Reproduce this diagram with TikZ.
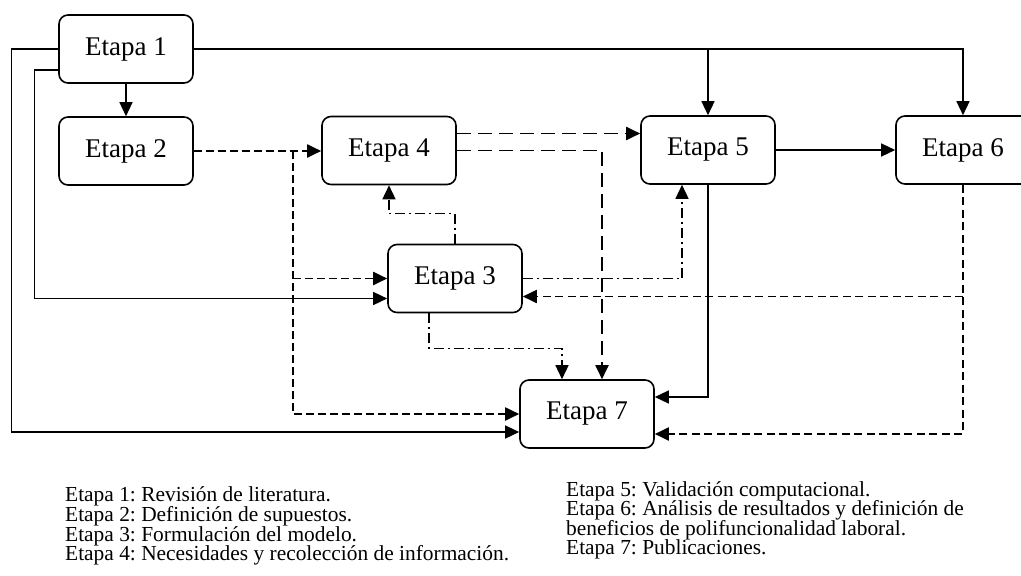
\documentclass[tikz,border=0pt]{standalone}
\usepackage{fontspec}
\setmainfont{Liberation Serif}
\usetikzlibrary{arrows.meta,calc}
\frenchspacing
\begin{document}
\begin{tikzpicture}[x=1pt,y=-1pt,
  stagebox/.style={draw, line width=1.6pt, rounded corners=9pt, minimum width=134pt, minimum height=68pt, inner sep=0pt, font=\fontsize{27}{30}\selectfont},
  arr/.style={-{Triangle[length=14pt,width=13pt]}},
  conn/.style={line width=1.4pt},
  dashA/.style={conn, line width=1.9pt, dash pattern=on 8pt off 4pt},
  dashB/.style={conn, line width=1.9pt, dash pattern=on 14pt off 7pt},
  dashC/.style={conn, line width=1.9pt, dash pattern=on 8pt off 4.5pt},
  dashdot/.style={conn, line width=1.5pt, dash pattern=on 10pt off 4pt on 2pt off 4pt},
  legline/.style={anchor=base west, inner sep=0pt, font=\fontsize{21.4}{24}\selectfont}
]
\useasboundingbox (0,0) rectangle (1021,576);
\clip (0,0) rectangle (1021,576);

% stages
\node[stagebox] (e1) at (126,49) {Etapa 1};
\node[stagebox] (e2) at (126,151) {Etapa 2};
\node[stagebox] (e4) at (389,150.5) {Etapa 4};
\node[stagebox] (e3) at (455,278.5) {Etapa 3};
\node[stagebox] (e5) at (708,150) {Etapa 5};
\node[stagebox] (e6) at (963,150) {Etapa 6};
\node[stagebox] (e7) at (587,414) {Etapa 7};

% from Etapa 1
\draw[conn,arr] (e1.south) -- (e2.north);
\draw[conn,arr] (e1.east) -| (e6.north);
\draw[conn,arr] (e1.east -| e5.north) -- (e5.north);
\draw[conn,arr] (e1.west) -- ++(-47,0) |- ([yshift=-18pt]e7.west);
\draw[conn,arr] ([yshift=-21pt]e1.west) -- ++(-24,0) |- ([yshift=-20pt]e3.west);

% from Etapa 2
\coordinate (j2) at ($(e2.east)+(99,0)$);
\draw[dashA,arr] (e2.east) -- (e2.east -| e4.west);
\draw[dashA,arr] (j2) |- (e7.west);
\draw[dashA,arr] (j2 |- e3.west) -- (e3.west);

% from Etapa 4
\draw[dashB,arr] ([yshift=17pt]e4.east) -- ([yshift=17pt]e4.east -| e5.west);
\draw[dashB,arr] (e4.east) -| ([xshift=15pt]e7.north);

% from Etapa 3
\draw[dashdot,arr] (e3.north) -- ++(0,-30) -| (e4.south);
\draw[dashdot,arr] (e3.east) -| ([xshift=-26pt]e5.south);
\draw[dashdot,arr] ([xshift=-26pt]e3.south) -- ++(0,35) -| ([xshift=-25pt]e7.north);

% from Etapa 5
\draw[conn,arr] (e5.east) -- (e6.west);
\draw[conn,arr] (e5.south) |- ([yshift=17pt]e7.east);

% from Etapa 6
\draw[dashC,arr] (e6.south) |- ([yshift=-20pt]e7.east);
\draw[dashC,arr] ([yshift=-18pt]e3.east -| e6.south) -- ([yshift=-18pt]e3.east);

% legend
\node[legline] (l1) at (65,501.5) {Etapa 1: Revisión de literatura.};
\node[legline] (l2) at (65,521.3) {Etapa 2: Definición de supuestos.};
\node[legline] (l3) at (65,541.0) {Etapa 3: Formulación del modelo.};
\node[legline] (l4) at (65,560.7) {Etapa 4: Necesidades y recolección de información.};
\node[legline] (r1) at (566,496.0) {Etapa 5: Validación computacional.};
\node[legline] (r2) at (566,515.5) {Etapa 6: Análisis de resultados y definición de};
\node[legline] (r3) at (566,535.0) {beneficios de polifuncionalidad laboral.};
\node[legline] (r4) at (566,554.5) {Etapa 7: Publicaciones.};
\end{tikzpicture}
\end{document}
